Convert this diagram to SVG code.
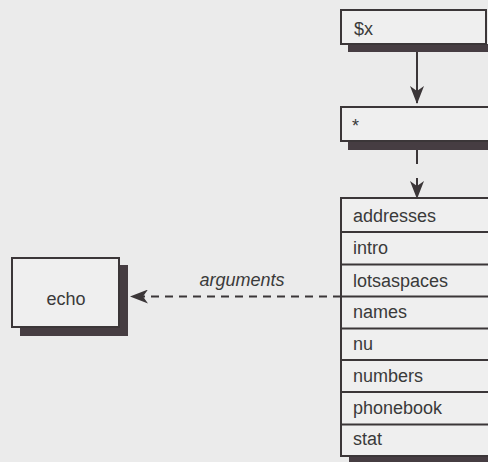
<svg xmlns="http://www.w3.org/2000/svg" width="488" height="462" viewBox="0 0 488 462">
  <defs>
    <style>
      .box { fill: #efefef; stroke: #3b3638; stroke-width: 2; }
      .shadow { fill: #463d42; }
      .sep { stroke: #3b3638; stroke-width: 2; }
      .lbl { font-family: "Liberation Sans", Arial, sans-serif; font-size: 18px; fill: #3a3a3a; }
      .edge { stroke: #3b3638; stroke-width: 2; fill: none; }
    </style>
    <marker id="head" viewBox="0 0 18 14" refX="17" refY="7" markerWidth="18" markerHeight="14" markerUnits="userSpaceOnUse" orient="auto">
      <path d="M18,7 L0,0 L5,7 L0,14 Z" fill="#3b3638"/>
    </marker>
  </defs>

  <rect width="488" height="462" fill="#ebebeb"/>

  <!-- $x -->
  <g id="node-var">
    <rect class="shadow" x="348" y="44" width="142" height="8"/>
    <rect class="box" x="341" y="10" width="145" height="34"/>
    <text class="lbl" x="354" y="35">$x</text>
  </g>

  <!-- * -->
  <g id="node-glob">
    <rect class="shadow" x="348" y="141" width="142" height="9"/>
    <rect class="box" x="341" y="107" width="150" height="34"/>
    <text class="lbl" x="352" y="132">*</text>
  </g>

  <!-- expanded file list -->
  <g id="node-files">
    <rect class="shadow" x="349" y="456" width="142" height="8"/>
    <rect class="box" x="341" y="198" width="160" height="258"/>
    <line class="sep" x1="341" y1="232" x2="490" y2="232"/>
    <line class="sep" x1="341" y1="264.5" x2="490" y2="264.5"/>
    <line class="sep" x1="341" y1="296.5" x2="490" y2="296.5"/>
    <line class="sep" x1="341" y1="328.5" x2="490" y2="328.5"/>
    <line class="sep" x1="341" y1="360" x2="490" y2="360"/>
    <line class="sep" x1="341" y1="392" x2="490" y2="392"/>
    <line class="sep" x1="341" y1="424.5" x2="490" y2="424.5"/>
    <text class="lbl" x="353" y="222">addresses</text>
    <text class="lbl" x="353" y="254">intro</text>
    <text class="lbl" x="353" y="286.5">lotsaspaces</text>
    <text class="lbl" x="353" y="318">names</text>
    <text class="lbl" x="353" y="350">nu</text>
    <text class="lbl" x="353" y="382">numbers</text>
    <text class="lbl" x="353" y="413.5">phonebook</text>
    <text class="lbl" x="353" y="445">stat</text>
  </g>

  <!-- echo -->
  <g id="node-echo">
    <rect class="shadow" x="119" y="265" width="9" height="71"/>
    <rect class="shadow" x="20" y="327" width="108" height="9"/>
    <rect class="box" x="12" y="258" width="107" height="69"/>
    <text class="lbl" x="66" y="305" text-anchor="middle">echo</text>
  </g>

  <g id="connectors">
    <line class="edge" x1="417" y1="52" x2="417" y2="103" marker-end="url(#head)"/>
    <line class="edge" x1="417" y1="150" x2="417" y2="198" stroke-dasharray="14 14" marker-end="url(#head)"/>
    <line class="edge" x1="341" y1="296.5" x2="131" y2="296.5" stroke-dasharray="8 6" marker-end="url(#head)"/>
    <text class="lbl" x="242" y="286" text-anchor="middle" font-style="italic">arguments</text>
  </g>
</svg>
